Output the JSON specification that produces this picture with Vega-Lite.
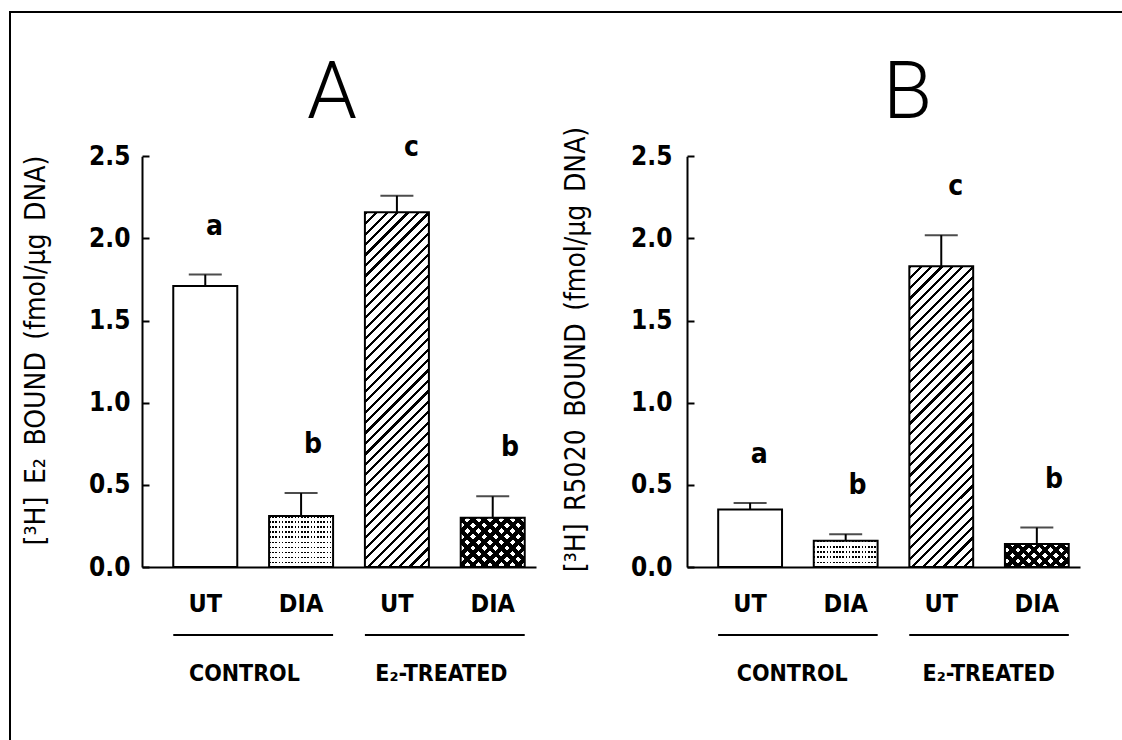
{
  "$schema": "https://vega.github.io/schema/vega-lite/v6.json",
  "usermeta": {"embedOptions": {"actions": false}},
  "autosize": "none",
  "width": 1132,
  "height": 748,
  "padding": {"left": 10, "top": 12, "right": -20, "bottom": -20},
  "background": "#ffffff",
  "view": {"stroke": "#000", "strokeWidth": 2},
  "config": {
    "mark": {"color": "#000"},
    "text": {"font": "DejaVu Sans Condensed, DejaVu Sans, sans-serif", "color": "#000"},
    "axis": {
      "labelFont": "DejaVu Sans Condensed, DejaVu Sans, sans-serif",
      "titleFont": "DejaVu Sans Condensed, DejaVu Sans, sans-serif",
      "labelColor": "#000", "titleColor": "#000", "titleFontWeight": "normal", "labelFontWeight": "bold",
      "domainColor": "#000", "domainWidth": 2, "tickColor": "#000", "tickWidth": 2, "grid": false
    }
  },
  "datasets": {
    "bars": [
      {"panel": "A", "group": "CONTROL", "drug": "UT", "key": "CONTROL|UT", "mean": 1.71, "upper": 1.78, "letter": "a"},
      {"panel": "A", "group": "CONTROL", "drug": "DIA", "key": "CONTROL|DIA", "mean": 0.31, "upper": 0.45, "letter": "b"},
      {"panel": "A", "group": "E₂-TREATED", "drug": "UT", "key": "E₂-TREATED|UT", "mean": 2.16, "upper": 2.26, "letter": "c"},
      {"panel": "A", "group": "E₂-TREATED", "drug": "DIA", "key": "E₂-TREATED|DIA", "mean": 0.30, "upper": 0.43, "letter": "b"},
      {"panel": "B", "group": "CONTROL", "drug": "UT", "key": "CONTROL|UT", "mean": 0.35, "upper": 0.39, "letter": "a"},
      {"panel": "B", "group": "CONTROL", "drug": "DIA", "key": "CONTROL|DIA", "mean": 0.16, "upper": 0.20, "letter": "b"},
      {"panel": "B", "group": "E₂-TREATED", "drug": "UT", "key": "E₂-TREATED|UT", "mean": 1.83, "upper": 2.02, "letter": "c"},
      {"panel": "B", "group": "E₂-TREATED", "drug": "DIA", "key": "E₂-TREATED|DIA", "mean": 0.14, "upper": 0.24, "letter": "b"}
    ],
    "groups": [
      {"panel": "A", "group": "CONTROL", "first": "CONTROL|UT", "last": "CONTROL|DIA"},
      {"panel": "A", "group": "E₂-TREATED", "first": "E₂-TREATED|UT", "last": "E₂-TREATED|DIA"},
      {"panel": "B", "group": "CONTROL", "first": "CONTROL|UT", "last": "CONTROL|DIA"},
      {"panel": "B", "group": "E₂-TREATED", "first": "E₂-TREATED|UT", "last": "E₂-TREATED|DIA"}
    ],
    "panels": [
      {"panel": "A", "label": "A"},
      {"panel": "B", "label": "B"}
    ]
  },
  "data": {"name": "bars"},
  "resolve": {"scale": {"x": "independent"}, "axis": {"x": "independent", "y": "independent"}},
  "layer": [
    {"transform": [{"filter": "datum.panel === 'A'"}], "mark": {"type": "bar", "fill": "#fff"},
      "encoding": {
        "x": {"field": "key", "type": "nominal", "title": null,
          "scale": {"domain": ["CONTROL|UT", "CONTROL|DIA", "E₂-TREATED|UT", "E₂-TREATED|DIA"], "range": [132, 526], "paddingInner": 0.332, "paddingOuter": 0.222, "align": 0.735},
          "axis": {"orient": "bottom", "offset": -193, "ticks": false, "labelAngle": 0, "labelPadding": 24, "labelFontSize": 25, "labelExpr": "split(datum.value, '|')[1]"}},
        "y": {"field": "mean", "type": "quantitative",
          "scale": {"domain": [0, 2.5], "range": [555, 144.3], "nice": false, "zero": false},
          "axis": {"orient": "left", "offset": -132, "values": [0, 0.5, 1, 1.5, 2, 2.5], "format": ".1f", "tickSize": -7, "labelPadding": 19, "labelFontSize": 26,
            "title": "[³H]\u2002E₂\u2002BOUND\u2002(fmol/µg\u2002DNA)", "titleX": -106, "titleY": 338, "titleAngle": -90, "titleAlign": "center", "titleBaseline": "middle", "titleFontSize": 28}}
      }},
    {"transform": [{"filter": "datum.panel === 'A' && datum.key === 'CONTROL|DIA'"}], "mark": {"type": "bar", "fill": "#000"},
      "encoding": {
        "x": {"field": "key", "type": "nominal", "scale": {"domain": ["CONTROL|UT", "CONTROL|DIA", "E₂-TREATED|UT", "E₂-TREATED|DIA"], "range": [132, 526], "paddingInner": 0.332, "paddingOuter": 0.222, "align": 0.735}, "axis": null},
        "y": {"field": "mean", "type": "quantitative", "scale": {"domain": [0, 2.5], "range": [555, 144.3], "nice": false, "zero": false}, "axis": null}}},
    {"transform": [{"filter": "datum.panel === 'A' && datum.key === 'CONTROL|DIA'"}], "mark": {"type": "bar", "fill": {"gradient": "linear", "x1": 0, "y1": 0, "x2": 1, "y2": 0, "stops": [
          {"offset": 0, "color": "transparent"}, {"offset": 0.025, "color": "transparent"}, {"offset": 0.025, "color": "#fff"}, {"offset": 0.05, "color": "#fff"},
          {"offset": 0.05, "color": "transparent"}, {"offset": 0.075, "color": "transparent"}, {"offset": 0.075, "color": "#fff"}, {"offset": 0.1, "color": "#fff"},
          {"offset": 0.1, "color": "transparent"}, {"offset": 0.125, "color": "transparent"}, {"offset": 0.125, "color": "#fff"}, {"offset": 0.15, "color": "#fff"},
          {"offset": 0.15, "color": "transparent"}, {"offset": 0.175, "color": "transparent"}, {"offset": 0.175, "color": "#fff"}, {"offset": 0.2, "color": "#fff"},
          {"offset": 0.2, "color": "transparent"}, {"offset": 0.225, "color": "transparent"}, {"offset": 0.225, "color": "#fff"}, {"offset": 0.25, "color": "#fff"},
          {"offset": 0.25, "color": "transparent"}, {"offset": 0.275, "color": "transparent"}, {"offset": 0.275, "color": "#fff"}, {"offset": 0.3, "color": "#fff"},
          {"offset": 0.3, "color": "transparent"}, {"offset": 0.325, "color": "transparent"}, {"offset": 0.325, "color": "#fff"}, {"offset": 0.35, "color": "#fff"},
          {"offset": 0.35, "color": "transparent"}, {"offset": 0.375, "color": "transparent"}, {"offset": 0.375, "color": "#fff"}, {"offset": 0.4, "color": "#fff"},
          {"offset": 0.4, "color": "transparent"}, {"offset": 0.425, "color": "transparent"}, {"offset": 0.425, "color": "#fff"}, {"offset": 0.45, "color": "#fff"},
          {"offset": 0.45, "color": "transparent"}, {"offset": 0.475, "color": "transparent"}, {"offset": 0.475, "color": "#fff"}, {"offset": 0.5, "color": "#fff"},
          {"offset": 0.5, "color": "transparent"}, {"offset": 0.525, "color": "transparent"}, {"offset": 0.525, "color": "#fff"}, {"offset": 0.55, "color": "#fff"},
          {"offset": 0.55, "color": "transparent"}, {"offset": 0.575, "color": "transparent"}, {"offset": 0.575, "color": "#fff"}, {"offset": 0.6, "color": "#fff"},
          {"offset": 0.6, "color": "transparent"}, {"offset": 0.625, "color": "transparent"}, {"offset": 0.625, "color": "#fff"}, {"offset": 0.65, "color": "#fff"},
          {"offset": 0.65, "color": "transparent"}, {"offset": 0.675, "color": "transparent"}, {"offset": 0.675, "color": "#fff"}, {"offset": 0.7, "color": "#fff"},
          {"offset": 0.7, "color": "transparent"}, {"offset": 0.725, "color": "transparent"}, {"offset": 0.725, "color": "#fff"}, {"offset": 0.75, "color": "#fff"},
          {"offset": 0.75, "color": "transparent"}, {"offset": 0.775, "color": "transparent"}, {"offset": 0.775, "color": "#fff"}, {"offset": 0.8, "color": "#fff"},
          {"offset": 0.8, "color": "transparent"}, {"offset": 0.825, "color": "transparent"}, {"offset": 0.825, "color": "#fff"}, {"offset": 0.85, "color": "#fff"},
          {"offset": 0.85, "color": "transparent"}, {"offset": 0.875, "color": "transparent"}, {"offset": 0.875, "color": "#fff"}, {"offset": 0.9, "color": "#fff"},
          {"offset": 0.9, "color": "transparent"}, {"offset": 0.925, "color": "transparent"}, {"offset": 0.925, "color": "#fff"}, {"offset": 0.95, "color": "#fff"},
          {"offset": 0.95, "color": "transparent"}, {"offset": 0.975, "color": "transparent"}, {"offset": 0.975, "color": "#fff"}, {"offset": 1, "color": "#fff"}
        ]}},
      "encoding": {
        "x": {"field": "key", "type": "nominal", "scale": {"domain": ["CONTROL|UT", "CONTROL|DIA", "E₂-TREATED|UT", "E₂-TREATED|DIA"], "range": [132, 526], "paddingInner": 0.332, "paddingOuter": 0.222, "align": 0.735}, "axis": null},
        "y": {"field": "mean", "type": "quantitative", "scale": {"domain": [0, 2.5], "range": [555, 144.3], "nice": false, "zero": false}, "axis": null}}},
    {"transform": [{"filter": "datum.panel === 'A' && datum.key === 'CONTROL|DIA'"}], "mark": {"type": "bar", "fill": {"gradient": "linear", "x1": 0, "y1": 0, "x2": 0, "y2": 1, "stops": [
          {"offset": 0, "color": "transparent"}, {"offset": 0.03, "color": "transparent"}, {"offset": 0.03, "color": "#fff"}, {"offset": 0.1, "color": "#fff"},
          {"offset": 0.1, "color": "transparent"}, {"offset": 0.13, "color": "transparent"}, {"offset": 0.13, "color": "#fff"}, {"offset": 0.2, "color": "#fff"},
          {"offset": 0.2, "color": "transparent"}, {"offset": 0.23, "color": "transparent"}, {"offset": 0.23, "color": "#fff"}, {"offset": 0.3, "color": "#fff"},
          {"offset": 0.3, "color": "transparent"}, {"offset": 0.33, "color": "transparent"}, {"offset": 0.33, "color": "#fff"}, {"offset": 0.4, "color": "#fff"},
          {"offset": 0.4, "color": "transparent"}, {"offset": 0.43, "color": "transparent"}, {"offset": 0.43, "color": "#fff"}, {"offset": 0.5, "color": "#fff"},
          {"offset": 0.5, "color": "transparent"}, {"offset": 0.53, "color": "transparent"}, {"offset": 0.53, "color": "#fff"}, {"offset": 0.6, "color": "#fff"},
          {"offset": 0.6, "color": "transparent"}, {"offset": 0.63, "color": "transparent"}, {"offset": 0.63, "color": "#fff"}, {"offset": 0.7, "color": "#fff"},
          {"offset": 0.7, "color": "transparent"}, {"offset": 0.73, "color": "transparent"}, {"offset": 0.73, "color": "#fff"}, {"offset": 0.8, "color": "#fff"},
          {"offset": 0.8, "color": "transparent"}, {"offset": 0.83, "color": "transparent"}, {"offset": 0.83, "color": "#fff"}, {"offset": 0.9, "color": "#fff"},
          {"offset": 0.9, "color": "transparent"}, {"offset": 0.93, "color": "transparent"}, {"offset": 0.93, "color": "#fff"}, {"offset": 1, "color": "#fff"}
        ]}},
      "encoding": {
        "x": {"field": "key", "type": "nominal", "scale": {"domain": ["CONTROL|UT", "CONTROL|DIA", "E₂-TREATED|UT", "E₂-TREATED|DIA"], "range": [132, 526], "paddingInner": 0.332, "paddingOuter": 0.222, "align": 0.735}, "axis": null},
        "y": {"field": "mean", "type": "quantitative", "scale": {"domain": [0, 2.5], "range": [555, 144.3], "nice": false, "zero": false}, "axis": null}}},
    {"transform": [{"filter": "datum.panel === 'A' && datum.key === 'E₂-TREATED|UT'"}], "mark": {"type": "bar", "fill": {"gradient": "linear", "x1": 0, "y1": 0, "x2": 0.2062, "y2": 1.1432, "stops": [
          {"offset": 0, "color": "#000"}, {"offset": 0.0075, "color": "#000"}, {"offset": 0.0075, "color": "#fff"}, {"offset": 0.025, "color": "#fff"},
          {"offset": 0.025, "color": "#000"}, {"offset": 0.0325, "color": "#000"}, {"offset": 0.0325, "color": "#fff"}, {"offset": 0.05, "color": "#fff"},
          {"offset": 0.05, "color": "#000"}, {"offset": 0.0575, "color": "#000"}, {"offset": 0.0575, "color": "#fff"}, {"offset": 0.075, "color": "#fff"},
          {"offset": 0.075, "color": "#000"}, {"offset": 0.0825, "color": "#000"}, {"offset": 0.0825, "color": "#fff"}, {"offset": 0.1, "color": "#fff"},
          {"offset": 0.1, "color": "#000"}, {"offset": 0.1075, "color": "#000"}, {"offset": 0.1075, "color": "#fff"}, {"offset": 0.125, "color": "#fff"},
          {"offset": 0.125, "color": "#000"}, {"offset": 0.1325, "color": "#000"}, {"offset": 0.1325, "color": "#fff"}, {"offset": 0.15, "color": "#fff"},
          {"offset": 0.15, "color": "#000"}, {"offset": 0.1575, "color": "#000"}, {"offset": 0.1575, "color": "#fff"}, {"offset": 0.175, "color": "#fff"},
          {"offset": 0.175, "color": "#000"}, {"offset": 0.1825, "color": "#000"}, {"offset": 0.1825, "color": "#fff"}, {"offset": 0.2, "color": "#fff"},
          {"offset": 0.2, "color": "#000"}, {"offset": 0.2075, "color": "#000"}, {"offset": 0.2075, "color": "#fff"}, {"offset": 0.225, "color": "#fff"},
          {"offset": 0.225, "color": "#000"}, {"offset": 0.2325, "color": "#000"}, {"offset": 0.2325, "color": "#fff"}, {"offset": 0.25, "color": "#fff"},
          {"offset": 0.25, "color": "#000"}, {"offset": 0.2575, "color": "#000"}, {"offset": 0.2575, "color": "#fff"}, {"offset": 0.275, "color": "#fff"},
          {"offset": 0.275, "color": "#000"}, {"offset": 0.2825, "color": "#000"}, {"offset": 0.2825, "color": "#fff"}, {"offset": 0.3, "color": "#fff"},
          {"offset": 0.3, "color": "#000"}, {"offset": 0.3075, "color": "#000"}, {"offset": 0.3075, "color": "#fff"}, {"offset": 0.325, "color": "#fff"},
          {"offset": 0.325, "color": "#000"}, {"offset": 0.3325, "color": "#000"}, {"offset": 0.3325, "color": "#fff"}, {"offset": 0.35, "color": "#fff"},
          {"offset": 0.35, "color": "#000"}, {"offset": 0.3575, "color": "#000"}, {"offset": 0.3575, "color": "#fff"}, {"offset": 0.375, "color": "#fff"},
          {"offset": 0.375, "color": "#000"}, {"offset": 0.3825, "color": "#000"}, {"offset": 0.3825, "color": "#fff"}, {"offset": 0.4, "color": "#fff"},
          {"offset": 0.4, "color": "#000"}, {"offset": 0.4075, "color": "#000"}, {"offset": 0.4075, "color": "#fff"}, {"offset": 0.425, "color": "#fff"},
          {"offset": 0.425, "color": "#000"}, {"offset": 0.4325, "color": "#000"}, {"offset": 0.4325, "color": "#fff"}, {"offset": 0.45, "color": "#fff"},
          {"offset": 0.45, "color": "#000"}, {"offset": 0.4575, "color": "#000"}, {"offset": 0.4575, "color": "#fff"}, {"offset": 0.475, "color": "#fff"},
          {"offset": 0.475, "color": "#000"}, {"offset": 0.4825, "color": "#000"}, {"offset": 0.4825, "color": "#fff"}, {"offset": 0.5, "color": "#fff"},
          {"offset": 0.5, "color": "#000"}, {"offset": 0.5075, "color": "#000"}, {"offset": 0.5075, "color": "#fff"}, {"offset": 0.525, "color": "#fff"},
          {"offset": 0.525, "color": "#000"}, {"offset": 0.5325, "color": "#000"}, {"offset": 0.5325, "color": "#fff"}, {"offset": 0.55, "color": "#fff"},
          {"offset": 0.55, "color": "#000"}, {"offset": 0.5575, "color": "#000"}, {"offset": 0.5575, "color": "#fff"}, {"offset": 0.575, "color": "#fff"},
          {"offset": 0.575, "color": "#000"}, {"offset": 0.5825, "color": "#000"}, {"offset": 0.5825, "color": "#fff"}, {"offset": 0.6, "color": "#fff"},
          {"offset": 0.6, "color": "#000"}, {"offset": 0.6075, "color": "#000"}, {"offset": 0.6075, "color": "#fff"}, {"offset": 0.625, "color": "#fff"},
          {"offset": 0.625, "color": "#000"}, {"offset": 0.6325, "color": "#000"}, {"offset": 0.6325, "color": "#fff"}, {"offset": 0.65, "color": "#fff"},
          {"offset": 0.65, "color": "#000"}, {"offset": 0.6575, "color": "#000"}, {"offset": 0.6575, "color": "#fff"}, {"offset": 0.675, "color": "#fff"},
          {"offset": 0.675, "color": "#000"}, {"offset": 0.6825, "color": "#000"}, {"offset": 0.6825, "color": "#fff"}, {"offset": 0.7, "color": "#fff"},
          {"offset": 0.7, "color": "#000"}, {"offset": 0.7075, "color": "#000"}, {"offset": 0.7075, "color": "#fff"}, {"offset": 0.725, "color": "#fff"},
          {"offset": 0.725, "color": "#000"}, {"offset": 0.7325, "color": "#000"}, {"offset": 0.7325, "color": "#fff"}, {"offset": 0.75, "color": "#fff"},
          {"offset": 0.75, "color": "#000"}, {"offset": 0.7575, "color": "#000"}, {"offset": 0.7575, "color": "#fff"}, {"offset": 0.775, "color": "#fff"},
          {"offset": 0.775, "color": "#000"}, {"offset": 0.7825, "color": "#000"}, {"offset": 0.7825, "color": "#fff"}, {"offset": 0.8, "color": "#fff"},
          {"offset": 0.8, "color": "#000"}, {"offset": 0.8075, "color": "#000"}, {"offset": 0.8075, "color": "#fff"}, {"offset": 0.825, "color": "#fff"},
          {"offset": 0.825, "color": "#000"}, {"offset": 0.8325, "color": "#000"}, {"offset": 0.8325, "color": "#fff"}, {"offset": 0.85, "color": "#fff"},
          {"offset": 0.85, "color": "#000"}, {"offset": 0.8575, "color": "#000"}, {"offset": 0.8575, "color": "#fff"}, {"offset": 0.875, "color": "#fff"},
          {"offset": 0.875, "color": "#000"}, {"offset": 0.8825, "color": "#000"}, {"offset": 0.8825, "color": "#fff"}, {"offset": 0.9, "color": "#fff"},
          {"offset": 0.9, "color": "#000"}, {"offset": 0.9075, "color": "#000"}, {"offset": 0.9075, "color": "#fff"}, {"offset": 0.925, "color": "#fff"},
          {"offset": 0.925, "color": "#000"}, {"offset": 0.9325, "color": "#000"}, {"offset": 0.9325, "color": "#fff"}, {"offset": 0.95, "color": "#fff"},
          {"offset": 0.95, "color": "#000"}, {"offset": 0.9575, "color": "#000"}, {"offset": 0.9575, "color": "#fff"}, {"offset": 0.975, "color": "#fff"},
          {"offset": 0.975, "color": "#000"}, {"offset": 0.9825, "color": "#000"}, {"offset": 0.9825, "color": "#fff"}, {"offset": 1, "color": "#fff"}
        ]}},
      "encoding": {
        "x": {"field": "key", "type": "nominal", "scale": {"domain": ["CONTROL|UT", "CONTROL|DIA", "E₂-TREATED|UT", "E₂-TREATED|DIA"], "range": [132, 526], "paddingInner": 0.332, "paddingOuter": 0.222, "align": 0.735}, "axis": null},
        "y": {"field": "mean", "type": "quantitative", "scale": {"domain": [0, 2.5], "range": [555, 144.3], "nice": false, "zero": false}, "axis": null}}},
    {"transform": [{"filter": "datum.panel === 'A' && datum.key === 'E₂-TREATED|DIA'"}], "mark": {"type": "bar", "fill": {"gradient": "linear", "x1": 0, "y1": 0, "x2": 1.111, "y2": 0.856, "stops": [
          {"offset": 0, "color": "#000"}, {"offset": 0.05, "color": "#000"}, {"offset": 0.05, "color": "#fff"}, {"offset": 0.1, "color": "#fff"},
          {"offset": 0.1, "color": "#000"}, {"offset": 0.15, "color": "#000"}, {"offset": 0.15, "color": "#fff"}, {"offset": 0.2, "color": "#fff"},
          {"offset": 0.2, "color": "#000"}, {"offset": 0.25, "color": "#000"}, {"offset": 0.25, "color": "#fff"}, {"offset": 0.3, "color": "#fff"},
          {"offset": 0.3, "color": "#000"}, {"offset": 0.35, "color": "#000"}, {"offset": 0.35, "color": "#fff"}, {"offset": 0.4, "color": "#fff"},
          {"offset": 0.4, "color": "#000"}, {"offset": 0.45, "color": "#000"}, {"offset": 0.45, "color": "#fff"}, {"offset": 0.5, "color": "#fff"},
          {"offset": 0.5, "color": "#000"}, {"offset": 0.55, "color": "#000"}, {"offset": 0.55, "color": "#fff"}, {"offset": 0.6, "color": "#fff"},
          {"offset": 0.6, "color": "#000"}, {"offset": 0.65, "color": "#000"}, {"offset": 0.65, "color": "#fff"}, {"offset": 0.7, "color": "#fff"},
          {"offset": 0.7, "color": "#000"}, {"offset": 0.75, "color": "#000"}, {"offset": 0.75, "color": "#fff"}, {"offset": 0.8, "color": "#fff"},
          {"offset": 0.8, "color": "#000"}, {"offset": 0.85, "color": "#000"}, {"offset": 0.85, "color": "#fff"}, {"offset": 0.9, "color": "#fff"},
          {"offset": 0.9, "color": "#000"}, {"offset": 0.95, "color": "#000"}, {"offset": 0.95, "color": "#fff"}, {"offset": 1, "color": "#fff"}
        ]}},
      "encoding": {
        "x": {"field": "key", "type": "nominal", "scale": {"domain": ["CONTROL|UT", "CONTROL|DIA", "E₂-TREATED|UT", "E₂-TREATED|DIA"], "range": [132, 526], "paddingInner": 0.332, "paddingOuter": 0.222, "align": 0.735}, "axis": null},
        "y": {"field": "mean", "type": "quantitative", "scale": {"domain": [0, 2.5], "range": [555, 144.3], "nice": false, "zero": false}, "axis": null}}},
    {"transform": [{"filter": "datum.panel === 'A' && datum.key === 'E₂-TREATED|DIA'"}], "mark": {"type": "bar", "fill": {"gradient": "linear", "x1": 0, "y1": 1, "x2": 1.111, "y2": 0.144, "stops": [
          {"offset": 0, "color": "#000"}, {"offset": 0.05, "color": "#000"}, {"offset": 0.05, "color": "transparent"}, {"offset": 0.1, "color": "transparent"},
          {"offset": 0.1, "color": "#000"}, {"offset": 0.15, "color": "#000"}, {"offset": 0.15, "color": "transparent"}, {"offset": 0.2, "color": "transparent"},
          {"offset": 0.2, "color": "#000"}, {"offset": 0.25, "color": "#000"}, {"offset": 0.25, "color": "transparent"}, {"offset": 0.3, "color": "transparent"},
          {"offset": 0.3, "color": "#000"}, {"offset": 0.35, "color": "#000"}, {"offset": 0.35, "color": "transparent"}, {"offset": 0.4, "color": "transparent"},
          {"offset": 0.4, "color": "#000"}, {"offset": 0.45, "color": "#000"}, {"offset": 0.45, "color": "transparent"}, {"offset": 0.5, "color": "transparent"},
          {"offset": 0.5, "color": "#000"}, {"offset": 0.55, "color": "#000"}, {"offset": 0.55, "color": "transparent"}, {"offset": 0.6, "color": "transparent"},
          {"offset": 0.6, "color": "#000"}, {"offset": 0.65, "color": "#000"}, {"offset": 0.65, "color": "transparent"}, {"offset": 0.7, "color": "transparent"},
          {"offset": 0.7, "color": "#000"}, {"offset": 0.75, "color": "#000"}, {"offset": 0.75, "color": "transparent"}, {"offset": 0.8, "color": "transparent"},
          {"offset": 0.8, "color": "#000"}, {"offset": 0.85, "color": "#000"}, {"offset": 0.85, "color": "transparent"}, {"offset": 0.9, "color": "transparent"},
          {"offset": 0.9, "color": "#000"}, {"offset": 0.95, "color": "#000"}, {"offset": 0.95, "color": "transparent"}, {"offset": 1, "color": "transparent"}
        ]}},
      "encoding": {
        "x": {"field": "key", "type": "nominal", "scale": {"domain": ["CONTROL|UT", "CONTROL|DIA", "E₂-TREATED|UT", "E₂-TREATED|DIA"], "range": [132, 526], "paddingInner": 0.332, "paddingOuter": 0.222, "align": 0.735}, "axis": null},
        "y": {"field": "mean", "type": "quantitative", "scale": {"domain": [0, 2.5], "range": [555, 144.3], "nice": false, "zero": false}, "axis": null}}},
    {"transform": [{"filter": "datum.panel === 'A'"}], "mark": {"type": "bar", "fill": "#fff", "fillOpacity": 0, "stroke": "#000", "strokeWidth": 2},
      "encoding": {
        "x": {"field": "key", "type": "nominal", "scale": {"domain": ["CONTROL|UT", "CONTROL|DIA", "E₂-TREATED|UT", "E₂-TREATED|DIA"], "range": [132, 526], "paddingInner": 0.332, "paddingOuter": 0.222, "align": 0.735}, "axis": null},
        "y": {"field": "mean", "type": "quantitative", "scale": {"domain": [0, 2.5], "range": [555, 144.3], "nice": false, "zero": false}, "axis": null}}},
    {"transform": [{"filter": "datum.panel === 'A'"}], "mark": {"type": "rule", "strokeWidth": 2},
      "encoding": {
        "x": {"field": "key", "type": "nominal", "scale": {"domain": ["CONTROL|UT", "CONTROL|DIA", "E₂-TREATED|UT", "E₂-TREATED|DIA"], "range": [132, 526], "paddingInner": 0.332, "paddingOuter": 0.222, "align": 0.735}, "axis": null},
        "y": {"field": "mean", "type": "quantitative", "scale": {"domain": [0, 2.5], "range": [555, 144.3], "nice": false, "zero": false}, "axis": null},
        "y2": {"field": "upper"}}},
    {"transform": [{"filter": "datum.panel === 'A'"}], "mark": {"type": "tick", "size": 33, "thickness": 2},
      "encoding": {
        "x": {"field": "key", "type": "nominal", "scale": {"domain": ["CONTROL|UT", "CONTROL|DIA", "E₂-TREATED|UT", "E₂-TREATED|DIA"], "range": [132, 526], "paddingInner": 0.332, "paddingOuter": 0.222, "align": 0.735}, "axis": null},
        "y": {"field": "upper", "type": "quantitative", "scale": {"domain": [0, 2.5], "range": [555, 144.3], "nice": false, "zero": false}, "axis": null}}},
    {"transform": [{"filter": "datum.panel === 'A'"}], "mark": {"type": "text", "dy": -48, "fontSize": 28, "fontWeight": "bold", "baseline": "middle"},
      "encoding": {
        "x": {"field": "key", "type": "nominal", "scale": {"domain": ["CONTROL|UT", "CONTROL|DIA", "E₂-TREATED|UT", "E₂-TREATED|DIA"], "range": [132, 526], "paddingInner": 0.332, "paddingOuter": 0.222, "align": 0.735}, "axis": null},
        "y": {"field": "upper", "type": "quantitative", "scale": {"domain": [0, 2.5], "range": [555, 144.3], "nice": false, "zero": false}, "axis": null},
        "text": {"field": "letter"}}},
    {"data": {"name": "groups"}, "transform": [{"filter": "datum.panel === 'A'"}], "mark": {"type": "rule", "strokeWidth": 2, "xOffset": -32, "x2Offset": 32, "yOffset": 68},
      "encoding": {
        "x": {"field": "first", "type": "nominal", "scale": {"domain": ["CONTROL|UT", "CONTROL|DIA", "E₂-TREATED|UT", "E₂-TREATED|DIA"], "range": [132, 526], "paddingInner": 0.332, "paddingOuter": 0.222, "align": 0.735}, "axis": null},
        "x2": {"field": "last"},
        "y": {"datum": 0, "type": "quantitative", "scale": {"domain": [0, 2.5], "range": [555, 144.3], "nice": false, "zero": false}, "axis": null}}},
    {"data": {"name": "groups"}, "transform": [{"filter": "datum.panel === 'A'"}], "mark": {"type": "text", "dx": 30, "dy": 107, "fontSize": 23, "fontWeight": "bold", "baseline": "middle"},
      "encoding": {
        "x": {"field": "first", "type": "nominal", "scale": {"domain": ["CONTROL|UT", "CONTROL|DIA", "E₂-TREATED|UT", "E₂-TREATED|DIA"], "range": [132, 526], "paddingInner": 0.332, "paddingOuter": 0.222, "align": 0.735}, "axis": null},
        "y": {"datum": 0, "type": "quantitative", "scale": {"domain": [0, 2.5], "range": [555, 144.3], "nice": false, "zero": false}, "axis": null},
        "text": {"field": "group"}}},
    {"data": {"name": "panels"}, "transform": [{"filter": "datum.panel === 'A'"}], "mark": {"type": "text", "dx": 19, "dy": -38, "fontSize": 80, "fontWeight": 300, "baseline": "alphabetic", "font": "Roboto, sans-serif"},
      "encoding": {
        "x": {"datum": "CONTROL|DIA", "type": "nominal", "scale": {"domain": ["CONTROL|UT", "CONTROL|DIA", "E₂-TREATED|UT", "E₂-TREATED|DIA"], "range": [132, 526], "paddingInner": 0.332, "paddingOuter": 0.222, "align": 0.735}, "axis": null},
        "y": {"datum": 2.5, "type": "quantitative", "scale": {"domain": [0, 2.5], "range": [555, 144.3], "nice": false, "zero": false}, "axis": null},
        "text": {"field": "label"}}},

    {"transform": [{"filter": "datum.panel === 'B'"}], "mark": {"type": "bar", "fill": "#fff"},
      "encoding": {
        "x": {"field": "key", "type": "nominal", "title": null,
          "scale": {"domain": ["CONTROL|UT", "CONTROL|DIA", "E₂-TREATED|UT", "E₂-TREATED|DIA"], "range": [677, 1070], "paddingInner": 0.332, "paddingOuter": 0.222, "align": 0.735},
          "axis": {"orient": "bottom", "offset": -193, "ticks": false, "labelAngle": 0, "labelPadding": 24, "labelFontSize": 25, "labelExpr": "split(datum.value, '|')[1]"}},
        "y": {"field": "mean", "type": "quantitative",
          "scale": {"domain": [0, 2.5], "range": [555, 144.3], "nice": false, "zero": false},
          "axis": {"orient": "left", "offset": -677, "values": [0, 0.5, 1, 1.5, 2, 2.5], "format": ".1f", "tickSize": -7, "labelPadding": 22, "labelFontSize": 26,
            "title": "[³H]\u2002R5020\u2002BOUND\u2002(fmol/µg\u2002DNA)", "titleX": -111, "titleY": 337, "titleAngle": -90, "titleAlign": "center", "titleBaseline": "middle", "titleFontSize": 28}}
      }},
    {"transform": [{"filter": "datum.panel === 'B' && datum.key === 'CONTROL|DIA'"}], "mark": {"type": "bar", "fill": "#000"},
      "encoding": {
        "x": {"field": "key", "type": "nominal", "scale": {"domain": ["CONTROL|UT", "CONTROL|DIA", "E₂-TREATED|UT", "E₂-TREATED|DIA"], "range": [677, 1070], "paddingInner": 0.332, "paddingOuter": 0.222, "align": 0.735}, "axis": null},
        "y": {"field": "mean", "type": "quantitative", "scale": {"domain": [0, 2.5], "range": [555, 144.3], "nice": false, "zero": false}, "axis": null}}},
    {"transform": [{"filter": "datum.panel === 'B' && datum.key === 'CONTROL|DIA'"}], "mark": {"type": "bar", "fill": {"gradient": "linear", "x1": 0, "y1": 0, "x2": 1, "y2": 0, "stops": [
          {"offset": 0, "color": "transparent"}, {"offset": 0.025, "color": "transparent"}, {"offset": 0.025, "color": "#fff"}, {"offset": 0.05, "color": "#fff"},
          {"offset": 0.05, "color": "transparent"}, {"offset": 0.075, "color": "transparent"}, {"offset": 0.075, "color": "#fff"}, {"offset": 0.1, "color": "#fff"},
          {"offset": 0.1, "color": "transparent"}, {"offset": 0.125, "color": "transparent"}, {"offset": 0.125, "color": "#fff"}, {"offset": 0.15, "color": "#fff"},
          {"offset": 0.15, "color": "transparent"}, {"offset": 0.175, "color": "transparent"}, {"offset": 0.175, "color": "#fff"}, {"offset": 0.2, "color": "#fff"},
          {"offset": 0.2, "color": "transparent"}, {"offset": 0.225, "color": "transparent"}, {"offset": 0.225, "color": "#fff"}, {"offset": 0.25, "color": "#fff"},
          {"offset": 0.25, "color": "transparent"}, {"offset": 0.275, "color": "transparent"}, {"offset": 0.275, "color": "#fff"}, {"offset": 0.3, "color": "#fff"},
          {"offset": 0.3, "color": "transparent"}, {"offset": 0.325, "color": "transparent"}, {"offset": 0.325, "color": "#fff"}, {"offset": 0.35, "color": "#fff"},
          {"offset": 0.35, "color": "transparent"}, {"offset": 0.375, "color": "transparent"}, {"offset": 0.375, "color": "#fff"}, {"offset": 0.4, "color": "#fff"},
          {"offset": 0.4, "color": "transparent"}, {"offset": 0.425, "color": "transparent"}, {"offset": 0.425, "color": "#fff"}, {"offset": 0.45, "color": "#fff"},
          {"offset": 0.45, "color": "transparent"}, {"offset": 0.475, "color": "transparent"}, {"offset": 0.475, "color": "#fff"}, {"offset": 0.5, "color": "#fff"},
          {"offset": 0.5, "color": "transparent"}, {"offset": 0.525, "color": "transparent"}, {"offset": 0.525, "color": "#fff"}, {"offset": 0.55, "color": "#fff"},
          {"offset": 0.55, "color": "transparent"}, {"offset": 0.575, "color": "transparent"}, {"offset": 0.575, "color": "#fff"}, {"offset": 0.6, "color": "#fff"},
          {"offset": 0.6, "color": "transparent"}, {"offset": 0.625, "color": "transparent"}, {"offset": 0.625, "color": "#fff"}, {"offset": 0.65, "color": "#fff"},
          {"offset": 0.65, "color": "transparent"}, {"offset": 0.675, "color": "transparent"}, {"offset": 0.675, "color": "#fff"}, {"offset": 0.7, "color": "#fff"},
          {"offset": 0.7, "color": "transparent"}, {"offset": 0.725, "color": "transparent"}, {"offset": 0.725, "color": "#fff"}, {"offset": 0.75, "color": "#fff"},
          {"offset": 0.75, "color": "transparent"}, {"offset": 0.775, "color": "transparent"}, {"offset": 0.775, "color": "#fff"}, {"offset": 0.8, "color": "#fff"},
          {"offset": 0.8, "color": "transparent"}, {"offset": 0.825, "color": "transparent"}, {"offset": 0.825, "color": "#fff"}, {"offset": 0.85, "color": "#fff"},
          {"offset": 0.85, "color": "transparent"}, {"offset": 0.875, "color": "transparent"}, {"offset": 0.875, "color": "#fff"}, {"offset": 0.9, "color": "#fff"},
          {"offset": 0.9, "color": "transparent"}, {"offset": 0.925, "color": "transparent"}, {"offset": 0.925, "color": "#fff"}, {"offset": 0.95, "color": "#fff"},
          {"offset": 0.95, "color": "transparent"}, {"offset": 0.975, "color": "transparent"}, {"offset": 0.975, "color": "#fff"}, {"offset": 1, "color": "#fff"}
        ]}},
      "encoding": {
        "x": {"field": "key", "type": "nominal", "scale": {"domain": ["CONTROL|UT", "CONTROL|DIA", "E₂-TREATED|UT", "E₂-TREATED|DIA"], "range": [677, 1070], "paddingInner": 0.332, "paddingOuter": 0.222, "align": 0.735}, "axis": null},
        "y": {"field": "mean", "type": "quantitative", "scale": {"domain": [0, 2.5], "range": [555, 144.3], "nice": false, "zero": false}, "axis": null}}},
    {"transform": [{"filter": "datum.panel === 'B' && datum.key === 'CONTROL|DIA'"}], "mark": {"type": "bar", "fill": {"gradient": "linear", "x1": 0, "y1": 0, "x2": 0, "y2": 1, "stops": [
          {"offset": 0, "color": "transparent"}, {"offset": 0.06, "color": "transparent"}, {"offset": 0.06, "color": "#fff"}, {"offset": 0.2, "color": "#fff"},
          {"offset": 0.2, "color": "transparent"}, {"offset": 0.26, "color": "transparent"}, {"offset": 0.26, "color": "#fff"}, {"offset": 0.4, "color": "#fff"},
          {"offset": 0.4, "color": "transparent"}, {"offset": 0.46, "color": "transparent"}, {"offset": 0.46, "color": "#fff"}, {"offset": 0.6, "color": "#fff"},
          {"offset": 0.6, "color": "transparent"}, {"offset": 0.66, "color": "transparent"}, {"offset": 0.66, "color": "#fff"}, {"offset": 0.8, "color": "#fff"},
          {"offset": 0.8, "color": "transparent"}, {"offset": 0.86, "color": "transparent"}, {"offset": 0.86, "color": "#fff"}, {"offset": 1, "color": "#fff"}
        ]}},
      "encoding": {
        "x": {"field": "key", "type": "nominal", "scale": {"domain": ["CONTROL|UT", "CONTROL|DIA", "E₂-TREATED|UT", "E₂-TREATED|DIA"], "range": [677, 1070], "paddingInner": 0.332, "paddingOuter": 0.222, "align": 0.735}, "axis": null},
        "y": {"field": "mean", "type": "quantitative", "scale": {"domain": [0, 2.5], "range": [555, 144.3], "nice": false, "zero": false}, "axis": null}}},
    {"transform": [{"filter": "datum.panel === 'B' && datum.key === 'E₂-TREATED|UT'"}], "mark": {"type": "bar", "fill": {"gradient": "linear", "x1": 0, "y1": 0, "x2": 0.2462, "y2": 1.16, "stops": [
          {"offset": 0, "color": "#000"}, {"offset": 0.008571, "color": "#000"}, {"offset": 0.008571, "color": "#fff"}, {"offset": 0.028571, "color": "#fff"},
          {"offset": 0.028571, "color": "#000"}, {"offset": 0.037143, "color": "#000"}, {"offset": 0.037143, "color": "#fff"}, {"offset": 0.057143, "color": "#fff"},
          {"offset": 0.057143, "color": "#000"}, {"offset": 0.065714, "color": "#000"}, {"offset": 0.065714, "color": "#fff"}, {"offset": 0.085714, "color": "#fff"},
          {"offset": 0.085714, "color": "#000"}, {"offset": 0.094286, "color": "#000"}, {"offset": 0.094286, "color": "#fff"}, {"offset": 0.114286, "color": "#fff"},
          {"offset": 0.114286, "color": "#000"}, {"offset": 0.122857, "color": "#000"}, {"offset": 0.122857, "color": "#fff"}, {"offset": 0.142857, "color": "#fff"},
          {"offset": 0.142857, "color": "#000"}, {"offset": 0.151429, "color": "#000"}, {"offset": 0.151429, "color": "#fff"}, {"offset": 0.171429, "color": "#fff"},
          {"offset": 0.171429, "color": "#000"}, {"offset": 0.18, "color": "#000"}, {"offset": 0.18, "color": "#fff"}, {"offset": 0.2, "color": "#fff"},
          {"offset": 0.2, "color": "#000"}, {"offset": 0.208571, "color": "#000"}, {"offset": 0.208571, "color": "#fff"}, {"offset": 0.228571, "color": "#fff"},
          {"offset": 0.228571, "color": "#000"}, {"offset": 0.237143, "color": "#000"}, {"offset": 0.237143, "color": "#fff"}, {"offset": 0.257143, "color": "#fff"},
          {"offset": 0.257143, "color": "#000"}, {"offset": 0.265714, "color": "#000"}, {"offset": 0.265714, "color": "#fff"}, {"offset": 0.285714, "color": "#fff"},
          {"offset": 0.285714, "color": "#000"}, {"offset": 0.294286, "color": "#000"}, {"offset": 0.294286, "color": "#fff"}, {"offset": 0.314286, "color": "#fff"},
          {"offset": 0.314286, "color": "#000"}, {"offset": 0.322857, "color": "#000"}, {"offset": 0.322857, "color": "#fff"}, {"offset": 0.342857, "color": "#fff"},
          {"offset": 0.342857, "color": "#000"}, {"offset": 0.351429, "color": "#000"}, {"offset": 0.351429, "color": "#fff"}, {"offset": 0.371429, "color": "#fff"},
          {"offset": 0.371429, "color": "#000"}, {"offset": 0.38, "color": "#000"}, {"offset": 0.38, "color": "#fff"}, {"offset": 0.4, "color": "#fff"},
          {"offset": 0.4, "color": "#000"}, {"offset": 0.408571, "color": "#000"}, {"offset": 0.408571, "color": "#fff"}, {"offset": 0.428571, "color": "#fff"},
          {"offset": 0.428571, "color": "#000"}, {"offset": 0.437143, "color": "#000"}, {"offset": 0.437143, "color": "#fff"}, {"offset": 0.457143, "color": "#fff"},
          {"offset": 0.457143, "color": "#000"}, {"offset": 0.465714, "color": "#000"}, {"offset": 0.465714, "color": "#fff"}, {"offset": 0.485714, "color": "#fff"},
          {"offset": 0.485714, "color": "#000"}, {"offset": 0.494286, "color": "#000"}, {"offset": 0.494286, "color": "#fff"}, {"offset": 0.514286, "color": "#fff"},
          {"offset": 0.514286, "color": "#000"}, {"offset": 0.522857, "color": "#000"}, {"offset": 0.522857, "color": "#fff"}, {"offset": 0.542857, "color": "#fff"},
          {"offset": 0.542857, "color": "#000"}, {"offset": 0.551429, "color": "#000"}, {"offset": 0.551429, "color": "#fff"}, {"offset": 0.571429, "color": "#fff"},
          {"offset": 0.571429, "color": "#000"}, {"offset": 0.58, "color": "#000"}, {"offset": 0.58, "color": "#fff"}, {"offset": 0.6, "color": "#fff"},
          {"offset": 0.6, "color": "#000"}, {"offset": 0.608571, "color": "#000"}, {"offset": 0.608571, "color": "#fff"}, {"offset": 0.628571, "color": "#fff"},
          {"offset": 0.628571, "color": "#000"}, {"offset": 0.637143, "color": "#000"}, {"offset": 0.637143, "color": "#fff"}, {"offset": 0.657143, "color": "#fff"},
          {"offset": 0.657143, "color": "#000"}, {"offset": 0.665714, "color": "#000"}, {"offset": 0.665714, "color": "#fff"}, {"offset": 0.685714, "color": "#fff"},
          {"offset": 0.685714, "color": "#000"}, {"offset": 0.694286, "color": "#000"}, {"offset": 0.694286, "color": "#fff"}, {"offset": 0.714286, "color": "#fff"},
          {"offset": 0.714286, "color": "#000"}, {"offset": 0.722857, "color": "#000"}, {"offset": 0.722857, "color": "#fff"}, {"offset": 0.742857, "color": "#fff"},
          {"offset": 0.742857, "color": "#000"}, {"offset": 0.751429, "color": "#000"}, {"offset": 0.751429, "color": "#fff"}, {"offset": 0.771429, "color": "#fff"},
          {"offset": 0.771429, "color": "#000"}, {"offset": 0.78, "color": "#000"}, {"offset": 0.78, "color": "#fff"}, {"offset": 0.8, "color": "#fff"},
          {"offset": 0.8, "color": "#000"}, {"offset": 0.808571, "color": "#000"}, {"offset": 0.808571, "color": "#fff"}, {"offset": 0.828571, "color": "#fff"},
          {"offset": 0.828571, "color": "#000"}, {"offset": 0.837143, "color": "#000"}, {"offset": 0.837143, "color": "#fff"}, {"offset": 0.857143, "color": "#fff"},
          {"offset": 0.857143, "color": "#000"}, {"offset": 0.865714, "color": "#000"}, {"offset": 0.865714, "color": "#fff"}, {"offset": 0.885714, "color": "#fff"},
          {"offset": 0.885714, "color": "#000"}, {"offset": 0.894286, "color": "#000"}, {"offset": 0.894286, "color": "#fff"}, {"offset": 0.914286, "color": "#fff"},
          {"offset": 0.914286, "color": "#000"}, {"offset": 0.922857, "color": "#000"}, {"offset": 0.922857, "color": "#fff"}, {"offset": 0.942857, "color": "#fff"},
          {"offset": 0.942857, "color": "#000"}, {"offset": 0.951429, "color": "#000"}, {"offset": 0.951429, "color": "#fff"}, {"offset": 0.971429, "color": "#fff"},
          {"offset": 0.971429, "color": "#000"}, {"offset": 0.98, "color": "#000"}, {"offset": 0.98, "color": "#fff"}, {"offset": 1, "color": "#fff"}
        ]}},
      "encoding": {
        "x": {"field": "key", "type": "nominal", "scale": {"domain": ["CONTROL|UT", "CONTROL|DIA", "E₂-TREATED|UT", "E₂-TREATED|DIA"], "range": [677, 1070], "paddingInner": 0.332, "paddingOuter": 0.222, "align": 0.735}, "axis": null},
        "y": {"field": "mean", "type": "quantitative", "scale": {"domain": [0, 2.5], "range": [555, 144.3], "nice": false, "zero": false}, "axis": null}}},
    {"transform": [{"filter": "datum.panel === 'B' && datum.key === 'E₂-TREATED|DIA'"}], "mark": {"type": "bar", "fill": {"gradient": "linear", "x1": 0, "y1": 0, "x2": 1.204, "y2": 0.433, "stops": [
          {"offset": 0, "color": "#000"}, {"offset": 0.0625, "color": "#000"}, {"offset": 0.0625, "color": "#fff"}, {"offset": 0.125, "color": "#fff"},
          {"offset": 0.125, "color": "#000"}, {"offset": 0.1875, "color": "#000"}, {"offset": 0.1875, "color": "#fff"}, {"offset": 0.25, "color": "#fff"},
          {"offset": 0.25, "color": "#000"}, {"offset": 0.3125, "color": "#000"}, {"offset": 0.3125, "color": "#fff"}, {"offset": 0.375, "color": "#fff"},
          {"offset": 0.375, "color": "#000"}, {"offset": 0.4375, "color": "#000"}, {"offset": 0.4375, "color": "#fff"}, {"offset": 0.5, "color": "#fff"},
          {"offset": 0.5, "color": "#000"}, {"offset": 0.5625, "color": "#000"}, {"offset": 0.5625, "color": "#fff"}, {"offset": 0.625, "color": "#fff"},
          {"offset": 0.625, "color": "#000"}, {"offset": 0.6875, "color": "#000"}, {"offset": 0.6875, "color": "#fff"}, {"offset": 0.75, "color": "#fff"},
          {"offset": 0.75, "color": "#000"}, {"offset": 0.8125, "color": "#000"}, {"offset": 0.8125, "color": "#fff"}, {"offset": 0.875, "color": "#fff"},
          {"offset": 0.875, "color": "#000"}, {"offset": 0.9375, "color": "#000"}, {"offset": 0.9375, "color": "#fff"}, {"offset": 1, "color": "#fff"}
        ]}},
      "encoding": {
        "x": {"field": "key", "type": "nominal", "scale": {"domain": ["CONTROL|UT", "CONTROL|DIA", "E₂-TREATED|UT", "E₂-TREATED|DIA"], "range": [677, 1070], "paddingInner": 0.332, "paddingOuter": 0.222, "align": 0.735}, "axis": null},
        "y": {"field": "mean", "type": "quantitative", "scale": {"domain": [0, 2.5], "range": [555, 144.3], "nice": false, "zero": false}, "axis": null}}},
    {"transform": [{"filter": "datum.panel === 'B' && datum.key === 'E₂-TREATED|DIA'"}], "mark": {"type": "bar", "fill": {"gradient": "linear", "x1": 0, "y1": 1, "x2": 1.204, "y2": 0.567, "stops": [
          {"offset": 0, "color": "#000"}, {"offset": 0.0625, "color": "#000"}, {"offset": 0.0625, "color": "transparent"}, {"offset": 0.125, "color": "transparent"},
          {"offset": 0.125, "color": "#000"}, {"offset": 0.1875, "color": "#000"}, {"offset": 0.1875, "color": "transparent"}, {"offset": 0.25, "color": "transparent"},
          {"offset": 0.25, "color": "#000"}, {"offset": 0.3125, "color": "#000"}, {"offset": 0.3125, "color": "transparent"}, {"offset": 0.375, "color": "transparent"},
          {"offset": 0.375, "color": "#000"}, {"offset": 0.4375, "color": "#000"}, {"offset": 0.4375, "color": "transparent"}, {"offset": 0.5, "color": "transparent"},
          {"offset": 0.5, "color": "#000"}, {"offset": 0.5625, "color": "#000"}, {"offset": 0.5625, "color": "transparent"}, {"offset": 0.625, "color": "transparent"},
          {"offset": 0.625, "color": "#000"}, {"offset": 0.6875, "color": "#000"}, {"offset": 0.6875, "color": "transparent"}, {"offset": 0.75, "color": "transparent"},
          {"offset": 0.75, "color": "#000"}, {"offset": 0.8125, "color": "#000"}, {"offset": 0.8125, "color": "transparent"}, {"offset": 0.875, "color": "transparent"},
          {"offset": 0.875, "color": "#000"}, {"offset": 0.9375, "color": "#000"}, {"offset": 0.9375, "color": "transparent"}, {"offset": 1, "color": "transparent"}
        ]}},
      "encoding": {
        "x": {"field": "key", "type": "nominal", "scale": {"domain": ["CONTROL|UT", "CONTROL|DIA", "E₂-TREATED|UT", "E₂-TREATED|DIA"], "range": [677, 1070], "paddingInner": 0.332, "paddingOuter": 0.222, "align": 0.735}, "axis": null},
        "y": {"field": "mean", "type": "quantitative", "scale": {"domain": [0, 2.5], "range": [555, 144.3], "nice": false, "zero": false}, "axis": null}}},
    {"transform": [{"filter": "datum.panel === 'B'"}], "mark": {"type": "bar", "fill": "#fff", "fillOpacity": 0, "stroke": "#000", "strokeWidth": 2},
      "encoding": {
        "x": {"field": "key", "type": "nominal", "scale": {"domain": ["CONTROL|UT", "CONTROL|DIA", "E₂-TREATED|UT", "E₂-TREATED|DIA"], "range": [677, 1070], "paddingInner": 0.332, "paddingOuter": 0.222, "align": 0.735}, "axis": null},
        "y": {"field": "mean", "type": "quantitative", "scale": {"domain": [0, 2.5], "range": [555, 144.3], "nice": false, "zero": false}, "axis": null}}},
    {"transform": [{"filter": "datum.panel === 'B'"}], "mark": {"type": "rule", "strokeWidth": 2},
      "encoding": {
        "x": {"field": "key", "type": "nominal", "scale": {"domain": ["CONTROL|UT", "CONTROL|DIA", "E₂-TREATED|UT", "E₂-TREATED|DIA"], "range": [677, 1070], "paddingInner": 0.332, "paddingOuter": 0.222, "align": 0.735}, "axis": null},
        "y": {"field": "mean", "type": "quantitative", "scale": {"domain": [0, 2.5], "range": [555, 144.3], "nice": false, "zero": false}, "axis": null},
        "y2": {"field": "upper"}}},
    {"transform": [{"filter": "datum.panel === 'B'"}], "mark": {"type": "tick", "size": 33, "thickness": 2},
      "encoding": {
        "x": {"field": "key", "type": "nominal", "scale": {"domain": ["CONTROL|UT", "CONTROL|DIA", "E₂-TREATED|UT", "E₂-TREATED|DIA"], "range": [677, 1070], "paddingInner": 0.332, "paddingOuter": 0.222, "align": 0.735}, "axis": null},
        "y": {"field": "upper", "type": "quantitative", "scale": {"domain": [0, 2.5], "range": [555, 144.3], "nice": false, "zero": false}, "axis": null}}},
    {"transform": [{"filter": "datum.panel === 'B'"}], "mark": {"type": "text", "dy": -48, "fontSize": 28, "fontWeight": "bold", "baseline": "middle"},
      "encoding": {
        "x": {"field": "key", "type": "nominal", "scale": {"domain": ["CONTROL|UT", "CONTROL|DIA", "E₂-TREATED|UT", "E₂-TREATED|DIA"], "range": [677, 1070], "paddingInner": 0.332, "paddingOuter": 0.222, "align": 0.735}, "axis": null},
        "y": {"field": "upper", "type": "quantitative", "scale": {"domain": [0, 2.5], "range": [555, 144.3], "nice": false, "zero": false}, "axis": null},
        "text": {"field": "letter"}}},
    {"data": {"name": "groups"}, "transform": [{"filter": "datum.panel === 'B'"}], "mark": {"type": "rule", "strokeWidth": 2, "xOffset": -32, "x2Offset": 32, "yOffset": 68},
      "encoding": {
        "x": {"field": "first", "type": "nominal", "scale": {"domain": ["CONTROL|UT", "CONTROL|DIA", "E₂-TREATED|UT", "E₂-TREATED|DIA"], "range": [677, 1070], "paddingInner": 0.332, "paddingOuter": 0.222, "align": 0.735}, "axis": null},
        "x2": {"field": "last"},
        "y": {"datum": 0, "type": "quantitative", "scale": {"domain": [0, 2.5], "range": [555, 144.3], "nice": false, "zero": false}, "axis": null}}},
    {"data": {"name": "groups"}, "transform": [{"filter": "datum.panel === 'B'"}], "mark": {"type": "text", "dx": 33, "dy": 107, "fontSize": 23, "fontWeight": "bold", "baseline": "middle"},
      "encoding": {
        "x": {"field": "first", "type": "nominal", "scale": {"domain": ["CONTROL|UT", "CONTROL|DIA", "E₂-TREATED|UT", "E₂-TREATED|DIA"], "range": [677, 1070], "paddingInner": 0.332, "paddingOuter": 0.222, "align": 0.735}, "axis": null},
        "y": {"datum": 0, "type": "quantitative", "scale": {"domain": [0, 2.5], "range": [555, 144.3], "nice": false, "zero": false}, "axis": null},
        "text": {"field": "group"}}},
    {"data": {"name": "panels"}, "transform": [{"filter": "datum.panel === 'B'"}], "mark": {"type": "text", "dx": 50, "dy": -38, "fontSize": 80, "fontWeight": 300, "baseline": "alphabetic", "font": "Roboto, sans-serif"},
      "encoding": {
        "x": {"datum": "CONTROL|DIA", "type": "nominal", "scale": {"domain": ["CONTROL|UT", "CONTROL|DIA", "E₂-TREATED|UT", "E₂-TREATED|DIA"], "range": [677, 1070], "paddingInner": 0.332, "paddingOuter": 0.222, "align": 0.735}, "axis": null},
        "y": {"datum": 2.5, "type": "quantitative", "scale": {"domain": [0, 2.5], "range": [555, 144.3], "nice": false, "zero": false}, "axis": null},
        "text": {"field": "label"}}}
  ]
}
